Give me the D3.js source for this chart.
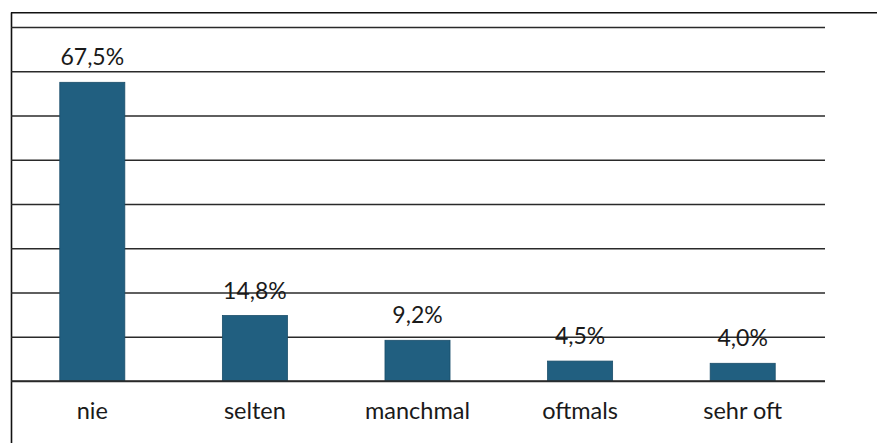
<!DOCTYPE html>
<html>
<head>
<meta charset="utf-8">
<script src="https://cdn.jsdelivr.net/npm/d3@7"></script>
<style>
  html, body { margin: 0; padding: 0; background: #ffffff; }
  svg { display: block; }
</style>
</head>
<body>
<svg id="chart" width="877" height="443"></svg>
<script>
const categories = ["nie", "selten", "manchmal", "oftmals", "sehr oft"];
const values = [67.5, 14.8, 9.2, 4.5, 4.0];
const valueLabels = ["67,5%", "14,8%", "9,2%", "4,5%", "4,0%"];
const gridTicks = [0, 10, 20, 30, 40, 50, 60, 70, 80];

(function () {
const svg = d3.select("#chart");
const W = 877, H = 443;
const pLeft = 11, pRight = 824, pTop = 27, pBottom = 381;

const x = d3.scaleBand().domain(categories).range([pLeft, pRight]).paddingInner(0.6).paddingOuter(0.3);
const y = d3.scaleLinear().domain([0, 80]).range([pBottom, pTop]);

// frame
svg.append("line").attr("x1", 11.5).attr("x2", 11.5).attr("y1", 12.5).attr("y2", H)
  .attr("stroke", "#111").attr("stroke-width", 1.6);
svg.append("line").attr("x1", 11).attr("x2", W).attr("y1", 12.8).attr("y2", 12.8)
  .attr("stroke", "#111").attr("stroke-width", 1.6);

// gridlines
const grid = svg.append("g").attr("transform", `translate(${pLeft},0)`)
  .call(d3.axisLeft(y).tickValues(gridTicks).tickSize(-(pRight + 1 - pLeft)).tickFormat(""));
grid.select(".domain").remove();
grid.selectAll(".tick line").attr("stroke", "#2a2a2a").attr("stroke-width", 1.3);

// bars
svg.append("g").selectAll("rect").data(values).join("rect")
  .attr("x", (d, i) => x(categories[i]))
  .attr("width", x.bandwidth())
  .attr("y", d => y(d))
  .attr("height", d => y(0) - y(d))
  .attr("fill", "#215f80")
  .attr("stroke", "#1a4e6a").attr("stroke-width", 0.8);

// baseline on top
svg.append("line").attr("x1", pLeft).attr("x2", pRight + 1).attr("y1", y(0)).attr("y2", y(0))
  .attr("stroke", "#2a2a2a").attr("stroke-width", 1.4);

// value labels
svg.append("g").selectAll("text").data(values).join("text")
  .attr("x", (d, i) => x(categories[i]) + x.bandwidth() / 2)
  .attr("y", d => y(d) - 17)
  .attr("text-anchor", "middle")
  .attr("font-family", "Lato, 'Open Sans', sans-serif")
  .attr("font-size", 23)
  .attr("fill", "#1a1a1a")
  .text((d, i) => valueLabels[i]);

// category labels
svg.append("g").selectAll("text").data(categories).join("text")
  .attr("x", d => x(d) + x.bandwidth() / 2)
  .attr("y", 419)
  .attr("text-anchor", "middle")
  .attr("font-family", "Lato, 'Open Sans', sans-serif")
  .attr("font-size", 23.5)
  .attr("fill", "#1a1a1a")
  .text(d => d);
})();
</script>
</body>
</html>
